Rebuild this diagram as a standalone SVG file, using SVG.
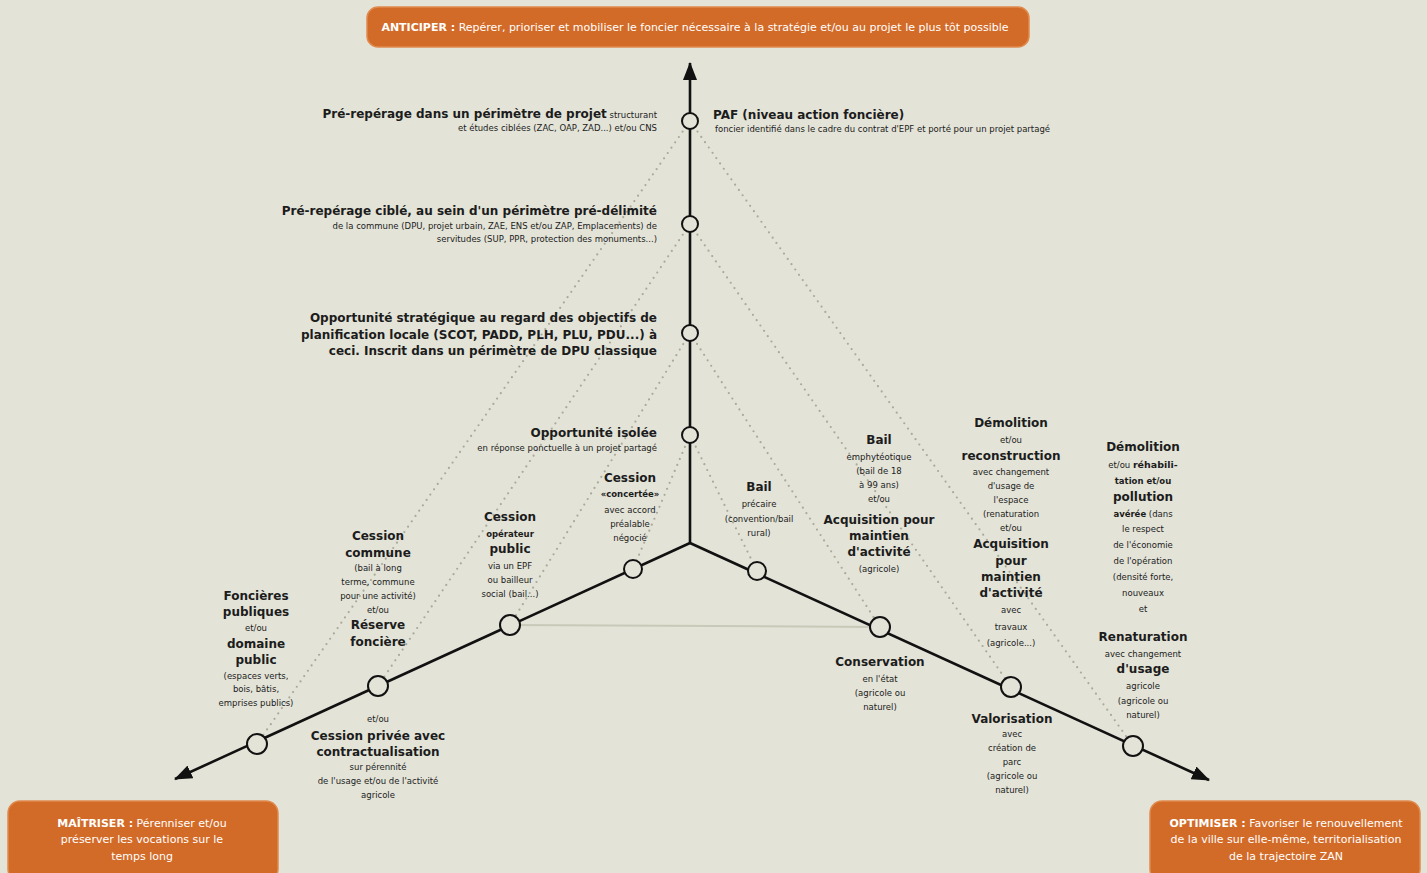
<svg xmlns="http://www.w3.org/2000/svg" width="1427" height="873" viewBox="0 0 1427 873">
<defs>
<marker id="arr" markerUnits="userSpaceOnUse" markerWidth="18" markerHeight="14" refX="17" refY="7" orient="auto">
<path d="M0,0 L18,7 L0,14 z" fill="#111"/>
</marker>
<style>
text{font-family:"DejaVu Sans","Liberation Sans",sans-serif;fill:#1c1c1c}
.b{font-size:12px;font-weight:700}
.s{font-size:8.5px}
.w{fill:#fff;font-size:11px}
.wb{font-weight:700}
.box{fill:#d36b28;stroke:#e08a4e;stroke-width:1.5}
.axis{stroke:#111;stroke-width:2.6;fill:none}
.dot{stroke:#aaa99a;stroke-width:2.2;stroke-dasharray:0 6.5;stroke-linecap:round;fill:none}
.node{fill:#e3e3d7;stroke:#111;stroke-width:2}
.m{text-anchor:middle}
.e{text-anchor:end}
</style>
</defs>
<rect width="1427" height="873" fill="#e3e3d7"/>

<g id="connectors">
<line x1="510" y1="625" x2="880" y2="627" stroke="#c9c9b9" stroke-width="2"/>
<line class="dot" x1="690" y1="121" x2="257" y2="744"/>
<line class="dot" x1="690" y1="224" x2="378" y2="686"/>
<line class="dot" x1="690" y1="333" x2="510" y2="625"/>
<line class="dot" x1="690" y1="435" x2="633" y2="569"/>
<line class="dot" x1="690" y1="121" x2="1133" y2="746"/>
<line class="dot" x1="690" y1="224" x2="1011" y2="687"/>
<line class="dot" x1="690" y1="333" x2="880" y2="627"/>
<line class="dot" x1="690" y1="435" x2="757" y2="571"/>
<line class="axis" x1="690" y1="543" x2="690" y2="63" marker-end="url(#arr)"/>
<line class="axis" x1="690" y1="543" x2="175" y2="779" marker-end="url(#arr)"/>
<line class="axis" x1="690" y1="543" x2="1209" y2="780" marker-end="url(#arr)"/>
</g>

<g id="anticiper">
<rect class="box" x="367" y="7" width="662" height="40" rx="11"/>
<text class="w m" x="695" y="31"><tspan class="wb">ANTICIPER :</tspan> Repérer, prioriser et mobiliser le foncier nécessaire à la stratégie et/ou au projet le plus tôt possible</text>
</g>
<g id="maitriser">
<rect class="box" x="8" y="801" width="270" height="80" rx="12"/>
<text class="w m" x="142" y="827"><tspan class="wb">MAÎTRISER :</tspan> Pérenniser et/ou</text>
<text class="w m" x="142" y="843">préserver les vocations sur le</text>
<text class="w m" x="142" y="860">temps long</text>
</g>
<g id="optimiser">
<rect class="box" x="1150" y="801" width="270" height="80" rx="12"/>
<text class="w m" x="1286" y="827"><tspan class="wb">OPTIMISER :</tspan> Favoriser le renouvellement</text>
<text class="w m" x="1286" y="843">de la ville sur elle-même, territorialisation</text>
<text class="w m" x="1286" y="860">de la trajectoire ZAN</text>
</g>

<g id="n-paf">
<circle class="node" cx="690" cy="121" r="8"/>
<text class="e" x="657" y="118"><tspan class="b">Pré-repérage dans un périmètre de projet</tspan><tspan class="s"> structurant</tspan></text>
<text class="s e" x="657" y="131">et études ciblées (ZAC, OAP, ZAD...) et/ou CNS</text>
<text class="b" x="713" y="119">PAF (niveau action foncière)</text>
<text class="s" x="715" y="132">foncier identifié dans le cadre du contrat d'EPF et porté pour un projet partagé</text>
</g>
<g id="n-cible">
<circle class="node" cx="690" cy="224" r="8"/>
<text class="b e" x="657" y="215">Pré-repérage ciblé, au sein d'un périmètre pré-délimité</text>
<text class="s e" x="657" y="229">de la commune (DPU, projet urbain, ZAE, ENS et/ou ZAP, Emplacements) de</text>
<text class="s e" x="657" y="242">servitudes (SUP, PPR, protection des monuments...)</text>
</g>
<g id="n-strat">
<circle class="node" cx="690" cy="333" r="8"/>
<text class="b e" x="657" y="322">Opportunité stratégique au regard des objectifs de</text>
<text class="b e" x="657" y="339">planification locale (SCOT, PADD, PLH, PLU, PDU...) à</text>
<text class="b e" x="657" y="355">ceci. Inscrit dans un périmètre de DPU classique</text>
</g>
<g id="n-isolee">
<circle class="node" cx="690" cy="435" r="8"/>
<text class="b e" x="657" y="437">Opportunité isolée</text>
<text class="s e" x="657" y="451">en réponse ponctuelle à un projet partagé</text>
</g>

<g id="n-concertee">
<circle class="node" cx="633" cy="569" r="9"/>
<text class="b m" x="630" y="482">Cession</text>
<text class="s m" x="630" y="497" font-weight="700" font-size="9.5">«concertée»</text>
<text class="s m" x="630" y="513">avec accord</text>
<text class="s m" x="630" y="527">préalable</text>
<text class="s m" x="630" y="541">négocié</text>
</g>
<g id="n-operateur">
<circle class="node" cx="510" cy="625" r="10"/>
<text class="b m" x="510" y="521">Cession</text>
<text class="s m" x="510" y="537" font-weight="700" font-size="9.5">opérateur</text>
<text class="b m" x="510" y="553" font-weight="400">public</text>
<text class="s m" x="510" y="569">via un EPF</text>
<text class="s m" x="510" y="583">ou bailleur</text>
<text class="s m" x="510" y="597">social (bail...)</text>
</g>
<g id="n-commune">
<circle class="node" cx="378" cy="686" r="10"/>
<text class="b m" x="378" y="540">Cession</text>
<text class="b m" x="378" y="557">commune</text>
<text class="s m" x="378" y="571">(bail à long</text>
<text class="s m" x="378" y="585">terme, commune</text>
<text class="s m" x="378" y="599">pour une activité)</text>
<text class="s m" x="378" y="613">et/ou</text>
<text class="b m" x="378" y="629">Réserve</text>
<text class="b m" x="378" y="646">foncière</text>
<text class="s m" x="378" y="722">et/ou</text>
<text class="b m" x="378" y="740">Cession privée avec</text>
<text class="b m" x="378" y="756">contractualisation</text>
<text class="s m" x="378" y="770">sur pérennité</text>
<text class="s m" x="378" y="784">de l'usage et/ou de l'activité</text>
<text class="s m" x="378" y="798">agricole</text>
</g>
<g id="n-foncieres">
<circle class="node" cx="257" cy="744" r="10"/>
<text class="b m" x="256" y="600">Foncières</text>
<text class="b m" x="256" y="616">publiques</text>
<text class="s m" x="256" y="631">et/ou</text>
<text class="b m" x="256" y="648">domaine</text>
<text class="b m" x="256" y="664">public</text>
<text class="s m" x="256" y="679">(espaces verts,</text>
<text class="s m" x="256" y="692">bois, bâtis,</text>
<text class="s m" x="256" y="706">emprises publics)</text>
</g>

<g id="n-precaire">
<circle class="node" cx="757" cy="571" r="9"/>
<text class="b m" x="759" y="491">Bail</text>
<text class="s m" x="759" y="507" font-size="9.5">précaire</text>
<text class="s m" x="759" y="522">(convention/bail</text>
<text class="s m" x="759" y="536">rural)</text>
</g>
<g id="n-conservation">
<circle class="node" cx="880" cy="627" r="10"/>
<text class="b m" x="879" y="444">Bail</text>
<text class="s m" x="879" y="460">emphytéotique</text>
<text class="s m" x="879" y="474">(bail de 18</text>
<text class="s m" x="879" y="488">à 99 ans)</text>
<text class="s m" x="879" y="502">et/ou</text>
<text class="b m" x="879" y="524">Acquisition pour</text>
<text class="b m" x="879" y="540" font-weight="400">maintien</text>
<text class="b m" x="879" y="556" font-weight="400">d'activité</text>
<text class="s m" x="879" y="572">(agricole)</text>
<text class="b m" x="880" y="666" font-weight="400">Conservation</text>
<text class="s m" x="880" y="682" font-size="9.5">en l'état</text>
<text class="s m" x="880" y="696">(agricole ou</text>
<text class="s m" x="880" y="710">naturel)</text>
</g>
<g id="n-valorisation">
<circle class="node" cx="1011" cy="687" r="10"/>
<text class="b m" x="1011" y="427">Démolition</text>
<text class="s m" x="1011" y="443">et/ou</text>
<text class="b m" x="1011" y="460" font-weight="400">reconstruction</text>
<text class="s m" x="1011" y="475">avec changement</text>
<text class="s m" x="1011" y="489">d'usage de</text>
<text class="s m" x="1011" y="503">l'espace</text>
<text class="s m" x="1011" y="517">(renaturation</text>
<text class="s m" x="1011" y="531">et/ou</text>
<text class="b m" x="1011" y="548">Acquisition</text>
<text class="b m" x="1011" y="565" font-weight="400">pour</text>
<text class="b m" x="1011" y="581" font-weight="400">maintien</text>
<text class="b m" x="1011" y="597" font-weight="400">d'activité</text>
<text class="s m" x="1011" y="613">avec</text>
<text class="s m" x="1011" y="630">travaux</text>
<text class="s m" x="1011" y="646">(agricole...)</text>
<text class="b m" x="1012" y="723">Valorisation</text>
<text class="s m" x="1012" y="737">avec</text>
<text class="s m" x="1012" y="751">création de</text>
<text class="s m" x="1012" y="765">parc</text>
<text class="s m" x="1012" y="779">(agricole ou</text>
<text class="s m" x="1012" y="793">naturel)</text>
</g>
<g id="n-renaturation">
<circle class="node" cx="1133" cy="746" r="10"/>
<text class="b m" x="1143" y="451">Démolition</text>
<text class="s m" x="1143" y="468">et/ou <tspan font-weight="700" font-size="9.5">réhabili-</tspan></text>
<text class="s m" x="1143" y="484" font-weight="700" font-size="9.5">tation et/ou</text>
<text class="b m" x="1143" y="501">pollution</text>
<text class="s m" x="1143" y="517"><tspan font-weight="700">avérée</tspan> (dans</text>
<text class="s m" x="1143" y="532">le respect</text>
<text class="s m" x="1143" y="548">de l'économie</text>
<text class="s m" x="1143" y="564">de l'opération</text>
<text class="s m" x="1143" y="580">(densité forte,</text>
<text class="s m" x="1143" y="596">nouveaux</text>
<text class="s m" x="1143" y="612">et</text>
<text class="b m" x="1143" y="641">Renaturation</text>
<text class="s m" x="1143" y="657">avec changement</text>
<text class="b m" x="1143" y="673" font-weight="400">d'usage</text>
<text class="s m" x="1143" y="689">agricole</text>
<text class="s m" x="1143" y="704">(agricole ou</text>
<text class="s m" x="1143" y="718">naturel)</text>
</g>
</svg>
